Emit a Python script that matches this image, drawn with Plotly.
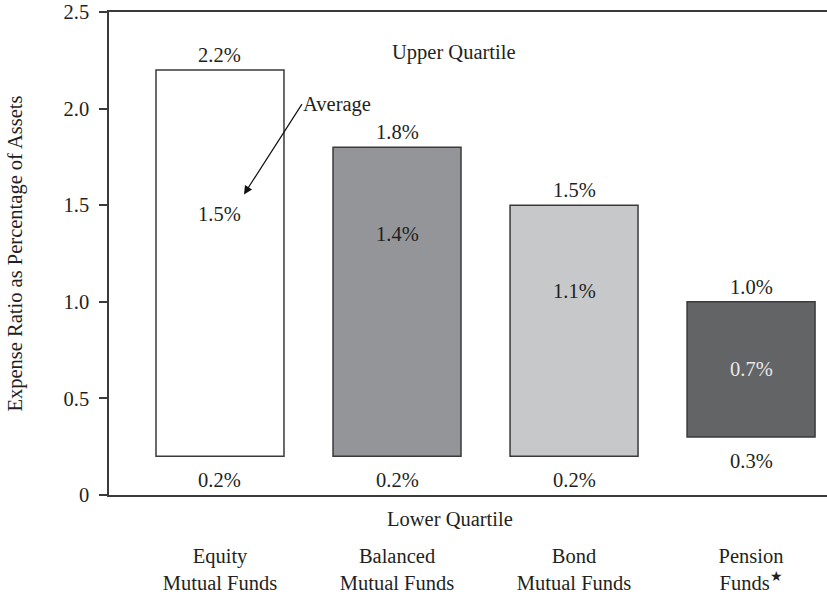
import plotly.graph_objects as go

# Expense ratios (% of assets) by fund type
categories = ["Equity<br>Mutual Funds", "Balanced<br>Mutual Funds",
              "Bond<br>Mutual Funds", "Pension<br>Funds<sup>★</sup>"]
lower_quartile = [0.2, 0.2, 0.2, 0.3]
upper_quartile = [2.2, 1.8, 1.5, 1.0]
average = [1.5, 1.4, 1.1, 0.7]
bar_colors = ["#ffffff", "#939598", "#c7c8ca", "#636466"]
avg_text_colors = ["#231f20", "#231f20", "#231f20", "#e8e8e8"]

y_ticks = [0, 0.5, 1.0, 1.5, 2.0, 2.5]
y_tick_text = ["0", "0.5", "1.0", "1.5", "2.0", "2.5"]

FONT = "Liberation Serif"
TXT = "#231f20"
LINE = "#3a3a3a"
FS = 20.5

xs = list(range(len(categories)))

fig = go.Figure()
fig.add_trace(go.Bar(
    x=xs,
    y=[u - l for u, l in zip(upper_quartile, lower_quartile)],
    base=lower_quartile,
    width=0.723,
    marker=dict(color=bar_colors, line=dict(color=LINE, width=1.5)),
    hoverinfo="skip",
    showlegend=False,
))

annotations = []
for x, lo, hi, av, tc in zip(xs, lower_quartile, upper_quartile, average, avg_text_colors):
    annotations.append(dict(x=x, y=hi, text=f"{hi:.1f}%", showarrow=False,
                            yshift=15, font=dict(color=TXT)))
    annotations.append(dict(x=x, y=lo, text=f"{lo:.1f}%", showarrow=False,
                            yshift=-24, font=dict(color=TXT)))
    annotations.append(dict(x=x, y=av, text=f"{av:.1f}%", showarrow=False,
                            yshift=-9, font=dict(color=tc)))

# Quartile captions
annotations.append(dict(x=1.32, y=2.29, text="Upper Quartile", showarrow=False,
                        font=dict(color=TXT)))
annotations.append(dict(x=1.30, xref="x", y=0, yref="paper", yshift=-24,
                        yanchor="middle", text="Lower Quartile", showarrow=False,
                        font=dict(color=TXT)))

# "Average" pointer: text sits at the arrow tail
annotations.append(dict(x=0.1356, y=1.556, ax=0.463, ay=2.023,
                        axref="x", ayref="y", text="Average",
                        xanchor="left", yanchor="middle", borderpad=0,
                        showarrow=True, arrowhead=2, arrowsize=1.4, arrowwidth=1.2,
                        arrowcolor="#111111", standoff=0,
                        font=dict(color=TXT)))

# Y-axis title
annotations.append(dict(x=0, xref="paper", xshift=-94, xanchor="center",
                        y=0.5, yref="paper", yanchor="middle",
                        text="Expense Ratio as Percentage of Assets", textangle=-90,
                        showarrow=False, font=dict(color=TXT)))

fig.update_layout(
    width=827, height=594,
    margin=dict(l=109, r=0, t=12, b=96),
    paper_bgcolor="white", plot_bgcolor="white",
    font=dict(family=FONT, size=FS, color=TXT),
    annotations=annotations,
    xaxis=dict(
        range=[-0.627, 3.429],
        tickvals=xs, ticktext=categories,
        showline=True, mirror=True, linecolor=LINE, linewidth=1.5,
        ticks="", showgrid=False, zeroline=False,
        ticklabelstandoff=42,
        tickfont=dict(family=FONT, size=FS, color=TXT),
    ),
    yaxis=dict(
        range=[0, 2.5],
        tickvals=y_ticks, ticktext=y_tick_text,
        showline=True, linecolor=LINE, linewidth=1.5,
        ticks="outside", ticklen=8, tickwidth=1.5, tickcolor=LINE,
        showgrid=False, zeroline=False,
        ticklabelstandoff=6,
        tickfont=dict(family=FONT, size=FS, color=TXT),
    ),
)

fig.write_html("out.html")
